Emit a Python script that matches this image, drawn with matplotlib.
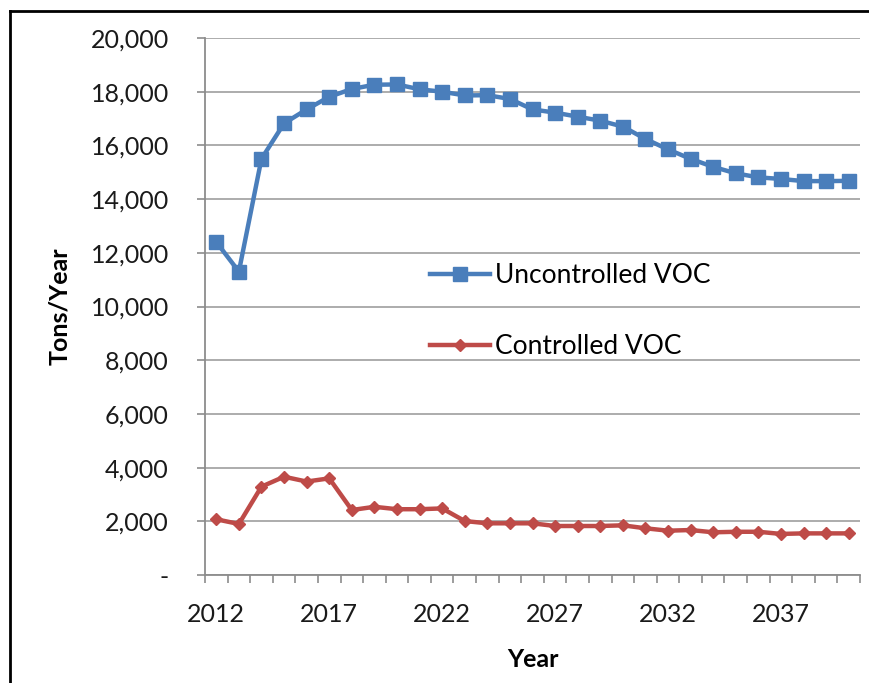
import numpy as np
import matplotlib
matplotlib.use('Agg')
import matplotlib.pyplot as plt
from matplotlib.ticker import FuncFormatter, MultipleLocator
from matplotlib.lines import Line2D

plt.rcParams['font.family'] = ['Lato', 'DejaVu Sans']

years = np.arange(2012, 2041)
uncontrolled = [12400, 11300, 15500, 16820, 17340, 17810, 18100, 18260, 18270,
                18090, 18000, 17860, 17870, 17730, 17340, 17220, 17070, 16920,
                16700, 16240, 15850, 15500, 15200, 14960, 14810, 14750, 14670,
                14670, 14680]
controlled = [2075, 1900, 3290, 3660, 3480, 3600, 2420, 2540, 2450,
              2450, 2480, 2010, 1925, 1925, 1925, 1825, 1825, 1825,
              1850, 1740, 1650, 1675, 1590, 1610, 1610, 1530, 1550,
              1550, 1550]
xtick_years = [2012, 2017, 2022, 2027, 2032, 2037]

W, H = 870, 683
fig = plt.figure(figsize=(W / 100, H / 100), dpi=100)
fig.patch.set_facecolor('white')

ax = fig.add_axes([205 / W, 1 - 575 / H, (860 - 205) / W, (575 - 38) / H])

blue = '#4A7EBB'
red = '#BE4B48'
ax.plot(years, uncontrolled, color=blue, lw=3.2, marker='s', ms=9.5,
        label='Uncontrolled VOC', zorder=3)
ax.plot(years, controlled, color=red, lw=3.2, marker='D', ms=6,
        label='Controlled VOC', zorder=3)

ax.set_xlim(2011.5, 2040.5)
ax.set_ylim(0, 20000)

ax.yaxis.set_major_locator(MultipleLocator(2000))
ax.yaxis.set_major_formatter(FuncFormatter(lambda v, p: '-' if v == 0 else f'{int(v):,}'))
ax.grid(axis='y', color='#A6A6A6', lw=1.3)
ax.set_axisbelow(True)

ax.set_xticks(xtick_years)
ax.set_xticks(np.arange(2011.5, 2041, 1), minor=True)
ax.tick_params(axis='x', which='major', length=0, pad=20, labelsize=18, colors='#1A1A1A')
ax.tick_params(axis='x', which='minor', length=6, width=1.2, color='#8C8C8C')
ax.tick_params(axis='y', length=6, width=1.2, color='#8C8C8C', pad=20,
               labelsize=18, labelcolor='#1A1A1A')

for s in ['top', 'right']:
    ax.spines[s].set_visible(False)
for s in ['left', 'bottom']:
    ax.spines[s].set_color('#8C8C8C')
    ax.spines[s].set_linewidth(1.3)

ax.set_xlabel('Year', fontsize=18, fontweight='bold', labelpad=16)
ax.set_ylabel('Tons/Year', fontsize=18, fontweight='bold', labelpad=14)

ax.legend(loc='upper left', bbox_to_anchor=(430 / W, 1 - 263 / H),
          bbox_transform=fig.transFigure, frameon=False, fontsize=19,
          borderpad=0, borderaxespad=0, handlelength=2.27, handletextpad=0.2,
          labelspacing=1.74)

# screenshot border (top and left)
fig.add_artist(Line2D([10 / W, 1], [1 - 11 / H, 1 - 11 / H], color='black', lw=2))
fig.add_artist(Line2D([10 / W, 10 / W], [0, 1 - 11 / H], color='black', lw=2))

fig.savefig('out.png', dpi=100)
